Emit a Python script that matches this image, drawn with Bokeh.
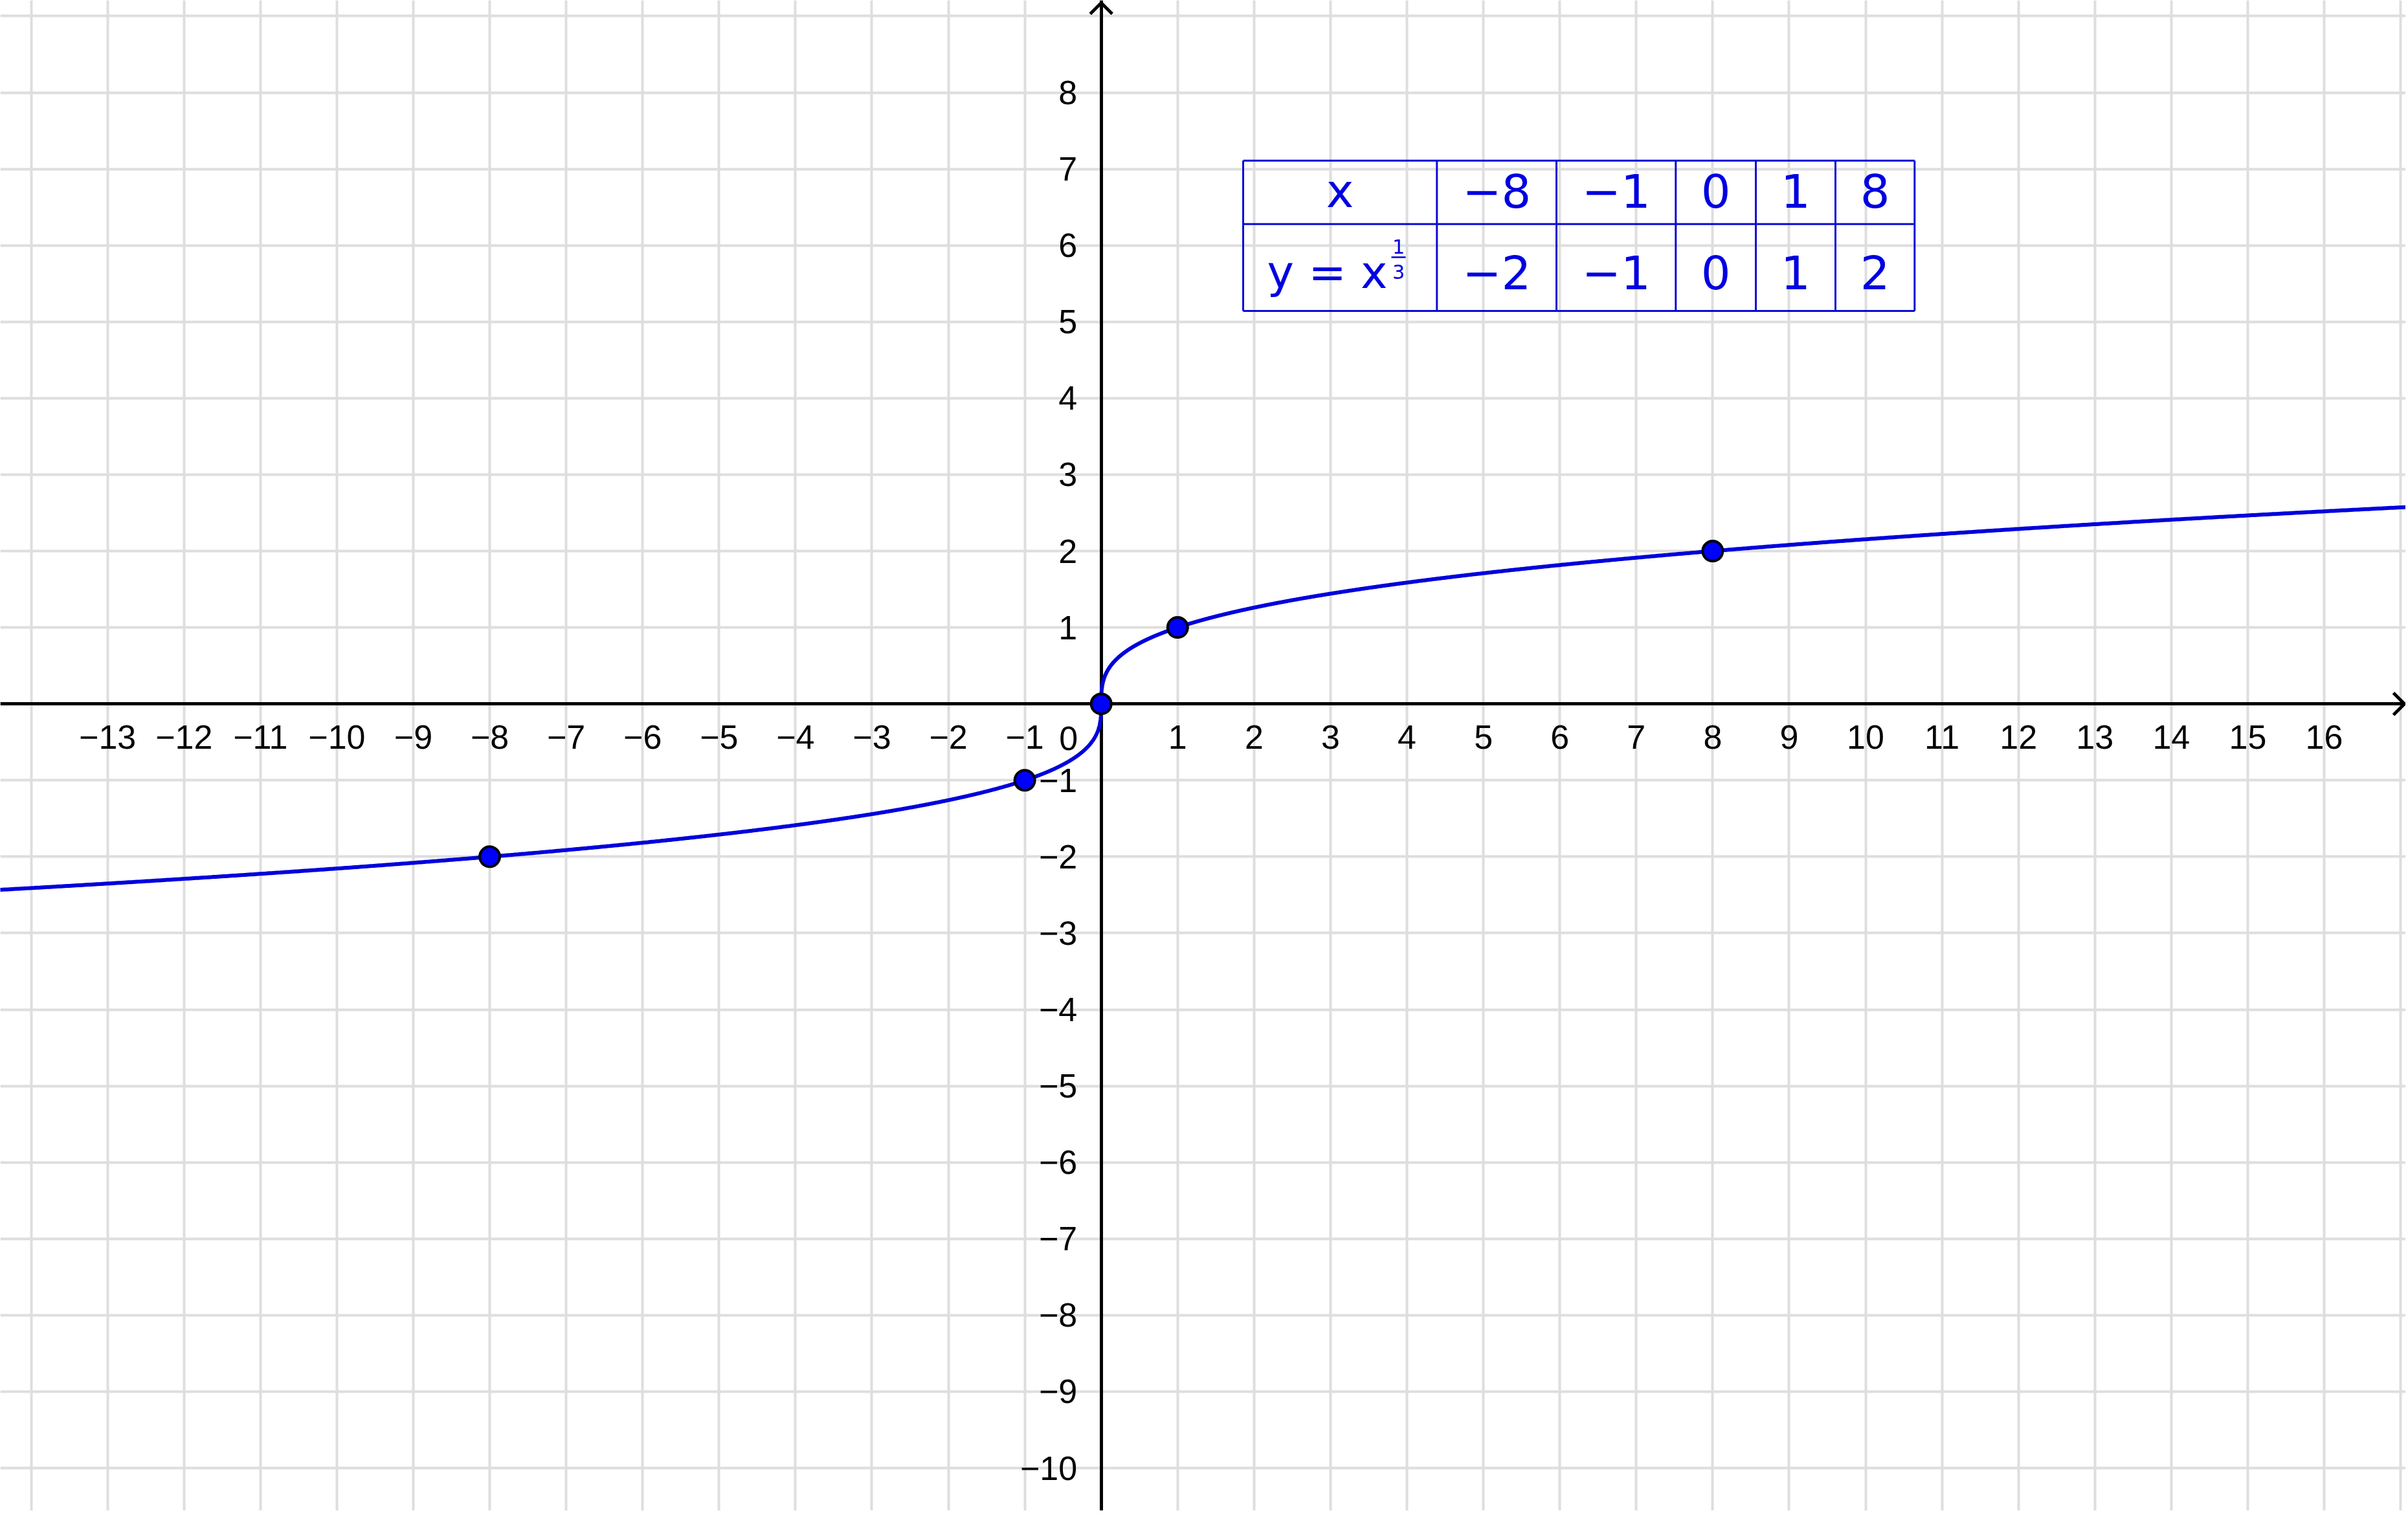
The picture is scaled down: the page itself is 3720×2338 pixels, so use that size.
import numpy as np
from bokeh.plotting import figure
from bokeh.models import LinearAxis, Grid, SingleIntervalTicker, FixedTicker, Range1d
from bokeh.core.properties import value
from bokeh.embed import file_html
from bokeh.resources import INLINE

# ---------------- data ----------------
table_x = [-8, -1, 0, 1, 8]          # x values of the table / marked points
table_y = [-2, -1, 0, 1, 2]          # y = x^(1/3) values
x_tick_values = list(range(-13, 0)) + list(range(1, 17))
y_tick_values = list(range(-10, 0)) + list(range(1, 9))
table_header_x = "x"
table_header_y = "y = x"
exp_num = "1"
exp_den = "3"


def fmt(v):
    return ("\u2212" + str(-v)) if v < 0 else str(v)


# ---------------- layout (reference pixels -> data) ----------------
UNIT = 118.08            # pixels per unit
OX, OY = 1700.7, 1087.2  # origin in reference pixels


def rx(px):
    return (px - OX) / UNIT


def ry(py):
    return (OY - py) / UNIT


W, H = 3716, 2334
X_START, X_END = rx(0), rx(W)
Y_START, Y_END = ry(H), ry(0)

GRID_COLOR = "#dedede"
CURVE_COLOR = "#0000dc"
POINT_COLOR = "#0000ff"
TABLE_LINE = "#0b0bd6"
TABLE_TEXT = "#0000e0"
AXIS_FONT = "Liberation Sans"
TABLE_FONT = "DejaVu Sans"

p = figure(width=W, height=H, x_range=Range1d(X_START, X_END), y_range=Range1d(Y_START, Y_END),
           output_backend="svg", toolbar_location=None,
           x_axis_location=None, y_axis_location=None,
           min_border=0, outline_line_color=None,
           background_fill_color="white", border_fill_color="white")
p.center = []

for dim in (0, 1):
    p.add_layout(Grid(dimension=dim, ticker=SingleIntervalTicker(interval=1),
                      grid_line_color=GRID_COLOR, grid_line_width=4))

axis_common = dict(fixed_location=0, axis_line_width=5, axis_line_color="black",
                   major_tick_line_color=None, minor_tick_line_color=None,
                   major_tick_in=0, major_tick_out=0,
                   major_label_text_font=AXIS_FONT, major_label_text_font_size="52px",
                   major_label_text_color="black")

xaxis = LinearAxis(ticker=FixedTicker(ticks=x_tick_values, minor_ticks=[]),
                   major_label_overrides={v: fmt(v) for v in x_tick_values},
                   major_label_standoff=33, **axis_common)
p.add_layout(xaxis, "below")

yaxis = LinearAxis(ticker=FixedTicker(ticks=y_tick_values, minor_ticks=[]),
                   major_label_overrides={v: fmt(v) for v in y_tick_values},
                   major_label_standoff=37, **axis_common)
p.add_layout(yaxis, "left")

# origin label
p.text(x=[0], y=[0], text=["0"], text_align="right", text_baseline="middle",
       x_offset=-36, y_offset=53, text_font=value(AXIS_FONT), text_font_size="52px",
       text_color="black")

# arrow heads
d = 17 / UNIT
tipx = rx(3714)
tipy = ry(4)
p.multi_line(xs=[[tipx - d, tipx, tipx - d], [-d, 0, d]],
             ys=[[d, 0, -d], [tipy - d, tipy, tipy - d]],
             line_color="black", line_width=5)

# ---------------- table ----------------
col_edges = [rx(v) for v in (1920, 2219.3, 2404, 2588.3, 2712, 2835, 2957.3)]
row_edges = [ry(v) for v in (247.7, 345.7, 480)]
hx0 = [col_edges[0]] * len(row_edges)
hx1 = [col_edges[-1]] * len(row_edges)
p.segment(x0=hx0, y0=row_edges, x1=hx1, y1=row_edges, line_color=TABLE_LINE, line_width=3)
p.segment(x0=col_edges, y0=[row_edges[0]] * len(col_edges),
          x1=col_edges, y1=[row_edges[-1]] * len(col_edges),
          line_color=TABLE_LINE, line_width=3)

col_centers = [(a + b) / 2 for a, b in zip(col_edges[:-1], col_edges[1:])]
mid1 = ry(294)
mid2 = ry(420)
p.text(x=col_centers, y=[mid1] * len(col_centers),
       text=[table_header_x] + [fmt(v) for v in table_x],
       text_align="center", text_baseline="middle",
       text_font=value(TABLE_FONT), text_font_size="72px", text_color=TABLE_TEXT)
p.text(x=col_centers[1:], y=[mid2] * len(table_y),
       text=[fmt(v) for v in table_y],
       text_align="center", text_baseline="middle",
       text_font=value(TABLE_FONT), text_font_size="72px", text_color=TABLE_TEXT)
p.text(x=[rx(2143)], y=[mid2], text=[table_header_y],
       text_align="right", text_baseline="middle",
       text_font=value(TABLE_FONT), text_font_size="70px", text_color=TABLE_TEXT)
p.text(x=[rx(2160), rx(2160)], y=[ry(380), ry(419)], text=[exp_num, exp_den],
       text_align="center", text_baseline="middle",
       text_font=value(TABLE_FONT), text_font_size="30px", text_color=TABLE_TEXT)
p.segment(x0=[rx(2149)], y0=[ry(397)], x1=[rx(2171)], y1=[ry(397)],
          line_color=TABLE_TEXT, line_width=2.5)

# ---------------- curve y = x^(1/3) and points ----------------
t = np.linspace(np.cbrt(X_START), np.cbrt(X_END), 3000)
curve_x = t ** 3
curve_y = t
p.line(curve_x, curve_y, line_color=CURVE_COLOR, line_width=6, level="overlay")
p.scatter(table_x, table_y, size=31, fill_color=POINT_COLOR, line_color="black",
          line_width=4, level="overlay")

open("out.html", "w").write(file_html(p, INLINE))
